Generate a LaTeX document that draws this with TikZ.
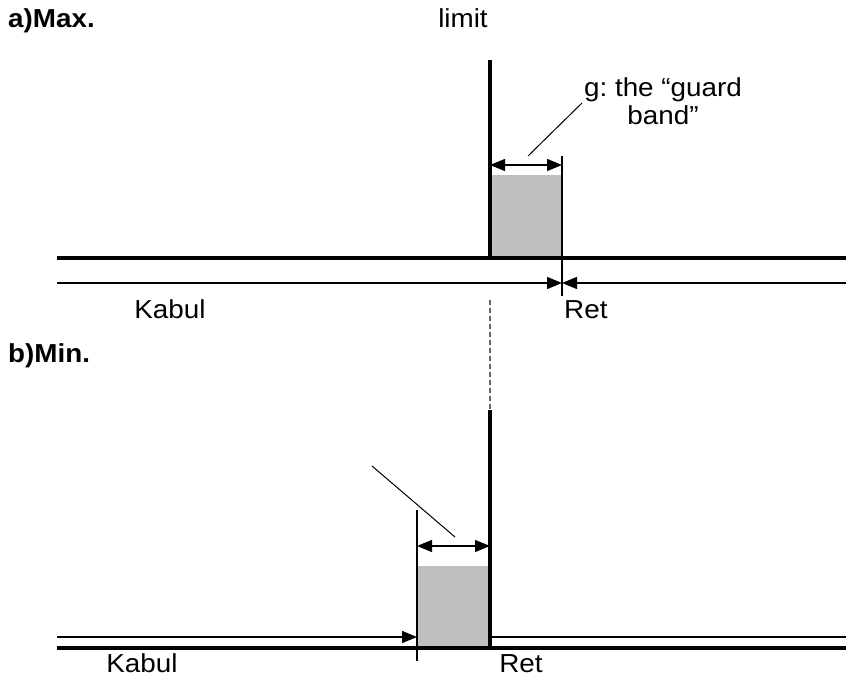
\documentclass[tikz,border=0pt]{standalone}
\usepackage{fontspec}
\setmainfont{Liberation Sans}[FakeStretch=1.07]
\usetikzlibrary{arrows.meta}
\frenchspacing
\begin{document}
\begin{tikzpicture}[x=1pt,y=-1pt,
  thickln/.style={line width=4pt},
  limitln/.style={line width=3.2pt},
  thinln/.style={line width=1.3pt},
  tick/.style={line width=2pt},
  fillbox/.style={fill=black!25, draw=none},
  tip/.style={-{Triangle[length=15pt,width=12pt]}},
  dtip/.style={{Triangle[length=15pt,width=12pt]}-{Triangle[length=15pt,width=12pt]}},
  lbl/.style={inner sep=0pt, anchor=base, font=\fontsize{26}{28}\selectfont},
  ttl/.style={inner sep=0pt, anchor=base west, font=\fontsize{26}{28}\selectfont\bfseries},
  guide/.style={line width=1pt}
]
\useasboundingbox (0,0) rectangle (846,679);
% ---------- a) Max ----------
\node[ttl] (ta) at (8,28) {a)Max.};
\node[lbl] (limit) at (463,28) {limit};
\fill[fillbox] (490,175) rectangle (562,258);
\coordinate (Ltop) at (490,60);
\coordinate (Lbot) at (490,258);
\draw[limitln] (Ltop) -- (Lbot);
\coordinate (Gtop) at (562,156);
\coordinate (Gbot) at (562,296);
\draw[tick] (Gtop) -- (Gbot);
\coordinate (A1) at (57,258);
\coordinate (A2) at (846,258);
\draw[thickln] (A1) -- (A2);
\coordinate (B1) at (57,283);
\coordinate (B2) at (846,283);
\coordinate (Bm) at (562,283);
\draw[thinln,tip] (B1) -- (Bm);
\draw[thinln,tip] (B2) -- (Bm);
\coordinate (Da) at (490,165);
\coordinate (Db) at (562,165);
\draw[thinln,dtip] (Da) -- (Db);
\node[lbl, anchor=center, align=center] (guard) at (663,101) {g: the “guard\\band”};
\coordinate (Pa) at (528,156);
\coordinate (Pb) at (582,103);
\draw[guide] (Pa) -- (Pb);
\node[lbl] (kabA) at (170,318) {Kabul};
\node[lbl, anchor=base west] (retA) at (564,318) {Ret};
% dashed link
\coordinate (Dsa) at (490,300);
\coordinate (Dsb) at (490,410);
\draw[line width=1.3pt, black!60, dash pattern=on 5pt off 3pt] (Dsa) -- (Dsb);
% ---------- b) Min ----------
\node[ttl] (tb) at (8,362) {b)Min.};
\fill[fillbox] (417,566) rectangle (490,648);
\coordinate (Mtop) at (490,410);
\coordinate (Mbot) at (490,648);
\draw[limitln] (Mtop) -- (Mbot);
\coordinate (Ntop) at (417,510);
\coordinate (Nbot) at (417,661);
\draw[tick] (Ntop) -- (Nbot);
\coordinate (C1) at (57,637);
\coordinate (Cm) at (417,637);
\draw[thinln,tip] (C1) -- (Cm);
\coordinate (C3) at (490,637);
\coordinate (C4) at (846,637);
\draw[thinln] (C3) -- (C4);
\coordinate (E1) at (57,648);
\coordinate (E2) at (846,648);
\draw[thickln] (E1) -- (E2);
\coordinate (Fa) at (417,546);
\coordinate (Fb) at (490,546);
\draw[thinln,dtip] (Fa) -- (Fb);
\coordinate (Qa) at (372,466);
\coordinate (Qb) at (455,537);
\draw[guide] (Qa) -- (Qb);
\node[lbl] (kabB) at (142,672) {Kabul};
\node[lbl] (retB) at (521,672) {Ret};
\end{tikzpicture}
\end{document}
